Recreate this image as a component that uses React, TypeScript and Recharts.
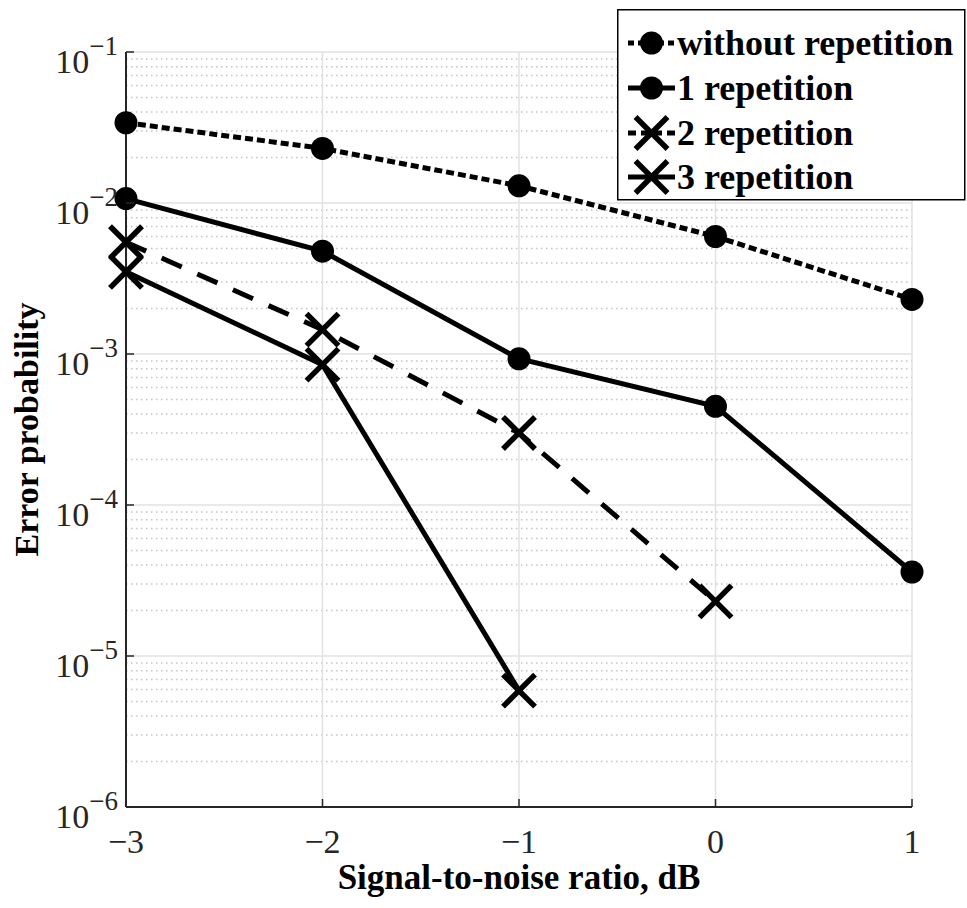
import React from "react";
import {
  CartesianGrid,
  Legend,
  Line,
  LineChart,
  XAxis,
  YAxis,
} from "recharts";

const snr = [-3, -2, -1, 0, 1];
const withoutRep = [0.034, 0.023, 0.013, 0.006, 0.0023];
const rep1 = [0.0107, 0.0048, 0.00093, 0.00045, 0.000036];
const rep2 = [0.0055, 0.00145, 0.0003, 0.000023, null];
const rep3 = [0.0035, 0.00085, 0.0000059, null, null];

const xTicks = [-3, -2, -1, 0, 1];
const yTicks = [1e-6, 1e-5, 1e-4, 1e-3, 1e-2, 1e-1];
const minorMult = [2, 3, 4, 5, 6, 7, 8, 9];

const SERIES = [
  { key: "without", name: "without repetition", dash: "8 4", marker: "circle" },
  { key: "rep1", name: "1 repetition", dash: undefined, marker: "circle" },
  { key: "rep2", name: "2 repetition", dash: "22 17", marker: "x" },
  { key: "rep3", name: "3 repetition", dash: undefined, marker: "x" },
];

const data = snr.map((s, i) => ({
  snr: s,
  without: withoutRep[i],
  rep1: rep1[i],
  rep2: rep2[i],
  rep3: rep3[i],
}));

// dotted minor grid at 2..9 x 10^k
const minorValues = yTicks
  .slice(0, -1)
  .flatMap((d) => minorMult.map((m) => m * d));

const FONT = "'Liberation Serif', 'Times New Roman', serif";
const AXIS = "#262626";

function Marker({ cx, cy, kind }: { cx: number; cy: number; kind: string }) {
  if (cx == null || cy == null || isNaN(cy)) return null;
  if (kind === "circle") {
    return <circle cx={cx} cy={cy} r={11.5} fill="#000" stroke="none" />;
  }
  const h = 16;
  return (
    <g stroke="#000" strokeWidth={5.5}>
      <line x1={cx - h} y1={cy - h} x2={cx + h} y2={cy + h} />
      <line x1={cx - h} y1={cy + h} x2={cx + h} y2={cy - h} />
    </g>
  );
}

function YTick(props: any) {
  const { x, y, payload } = props;
  const exp = Math.round(Math.log10(payload.value));
  return (
    <g>
      <line x1={x} x2={x + 8} y1={y} y2={y} stroke={AXIS} strokeWidth={1.5} />
      <text x={x - 8} y={y + 21} textAnchor="end" fontFamily={FONT} fontSize={34} fill={AXIS}>
        10
        <tspan dy={-18} fontSize={27}>{`\u2212${-exp}`}</tspan>
      </text>
    </g>
  );
}

function XTick(props: any) {
  const { x, y, payload } = props;
  const v = payload.value;
  const label = v < 0 ? `\u2212${-v}` : `${v}`;
  return (
    <g>
      <line x1={x} x2={x} y1={y} y2={y - 8} stroke={AXIS} strokeWidth={1.5} />
      <text x={x} y={y + 46} textAnchor="middle" fontFamily={FONT} fontSize={34} fill={AXIS}>
        {label}
      </text>
    </g>
  );
}

function LegendBox() {
  const rowY = [34, 79, 124, 168];
  return (
    <svg width={350} height={192} style={{ display: "block" }}>
      <rect x={0.75} y={0.75} width={347} height={190} fill="#fff" stroke="#000" strokeWidth={1.5} />
      {SERIES.map((s, i) => (
        <g key={s.key}>
          <line
            x1={11}
            x2={58}
            y1={rowY[i]}
            y2={rowY[i]}
            stroke="#000"
            strokeWidth={5}
            strokeDasharray={s.dash ? (s.marker === "circle" ? "6 4" : "8 5") : undefined}
          />
          <Marker cx={34.5} cy={rowY[i]} kind={s.marker} />
          <text x={60} y={rowY[i] + 12} fontFamily={FONT} fontWeight="bold" fontSize={36} fill="#000">
            {s.name}
          </text>
        </g>
      ))}
    </svg>
  );
}

export default function App() {
  return (
    <div style={{ position: "absolute", left: 0, top: 0, background: "#fff" }}>
      <LineChart
        width={967}
        height={908}
        data={data}
        margin={{ top: 52, right: 55, bottom: 0, left: 0 }}
      >
        <CartesianGrid
          horizontal={true}
          vertical={false}
          horizontalValues={minorValues}
          stroke="#c4c4c4"
          strokeWidth={1.5}
          strokeDasharray="1.5 3.5"
        />
        <CartesianGrid stroke="#e2e2e2" strokeWidth={1.5} />
        <XAxis
          type="number"
          dataKey="snr"
          domain={[-3, 1]}
          ticks={xTicks}
          interval={0}
          height={101}
          tickSize={0}
          tickMargin={0}
          tick={<XTick />}
          axisLine={{ stroke: AXIS, strokeWidth: 2 }}
          label={({ viewBox }: any) => (
            <text
              x={viewBox.x + viewBox.width / 2}
              y={viewBox.y + 82}
              textAnchor="middle"
              fontFamily={FONT}
              fontWeight="bold"
              fontSize={35}
              fill="#000"
            >
              Signal-to-noise ratio, dB
            </text>
          )}
        />
        <YAxis
          type="number"
          scale="log"
          domain={[1e-6, 1e-1]}
          allowDataOverflow
          ticks={yTicks}
          interval={0}
          width={126}
          tickSize={0}
          tickMargin={0}
          tick={<YTick />}
          axisLine={{ stroke: AXIS, strokeWidth: 2 }}
          label={({ viewBox }: any) => {
            const cx = viewBox.x + 38;
            const cy = viewBox.y + viewBox.height / 2;
            return (
              <text
                x={cx}
                y={cy}
                transform={`rotate(-90 ${cx} ${cy})`}
                textAnchor="middle"
                fontFamily={FONT}
                fontWeight="bold"
                fontSize={34}
                fill="#000"
              >
                Error probability
              </text>
            );
          }}
        />
        {SERIES.map((s) => (
          <Line
            key={s.key}
            dataKey={s.key}
            name={s.name}
            stroke="#000"
            strokeWidth={5}
            strokeDasharray={s.dash}
            isAnimationActive={false}
            dot={(p: any) => <Marker key={`${s.key}-${p.index}`} cx={p.cx} cy={p.cy} kind={s.marker} />}
            activeDot={false}
          />
        ))}
        <Legend
          layout="vertical"
          align="center"
          verticalAlign="middle"
          content={() => <LegendBox />}
          wrapperStyle={{ position: "absolute", left: 617, top: 9, width: 350, height: 192 }}
        />
      </LineChart>
    </div>
  );
}
